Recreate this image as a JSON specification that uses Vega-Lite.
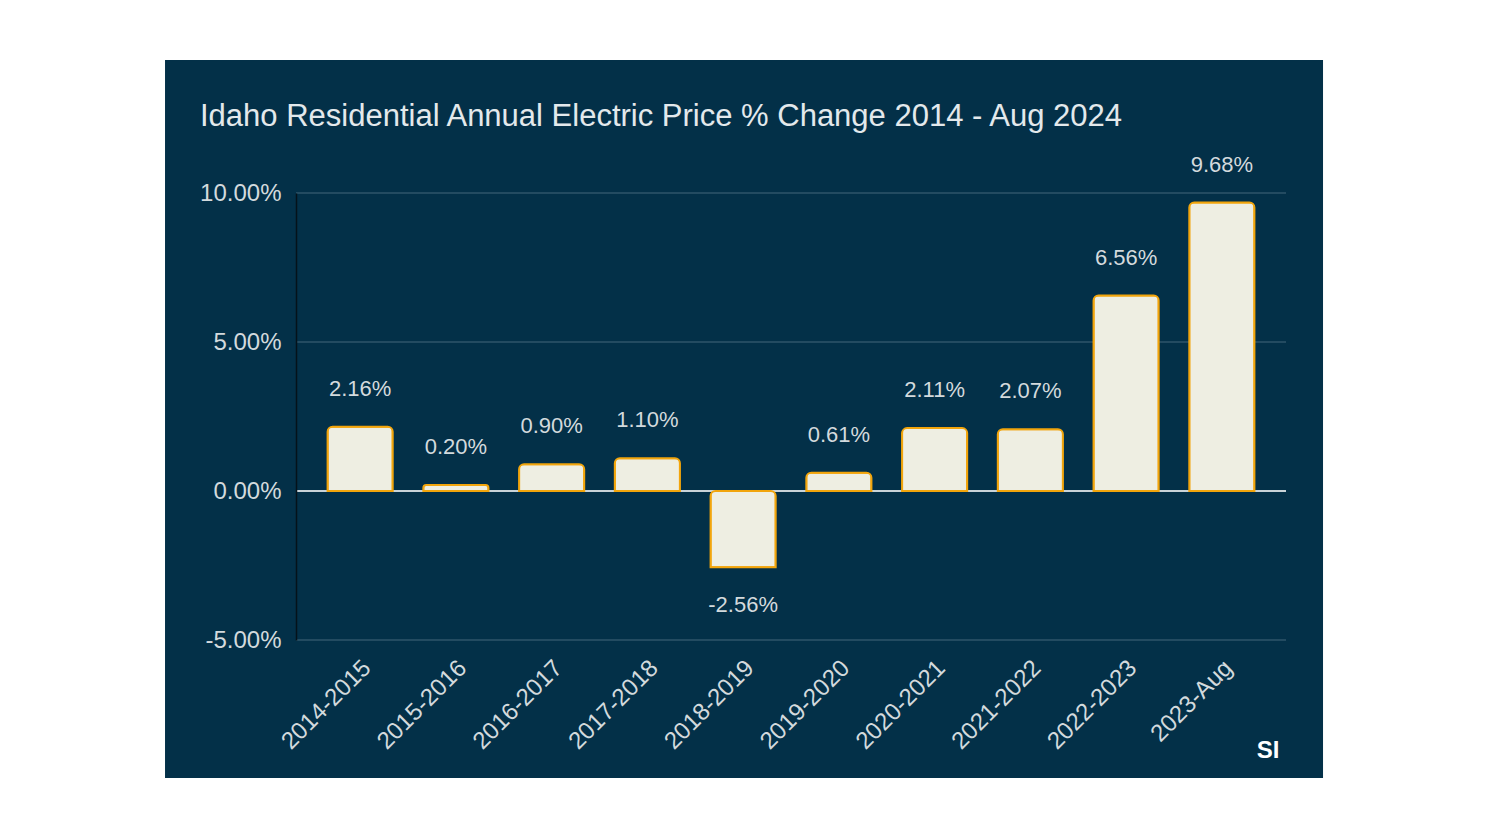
{
  "$schema": "https://vega.github.io/schema/vega-lite/v6.json",
  "width": 990,
  "height": 447,
  "autosize": {"type": "pad"},
  "padding": {"left": 165, "top": 60, "right": 165, "bottom": 59},
  "background": "white",
  "config": {
    "view": {"stroke": null},
    "font": "Liberation Sans"
  },
  "title": {
    "text": "Idaho Residential Annual Electric Price % Change 2014 - Aug 2024",
    "anchor": "start",
    "frame": "group",
    "baseline": "alphabetic",
    "offset": -97,
    "dx": -96,
    "fontSize": 31,
    "fontWeight": "normal",
    "font": "Liberation Sans",
    "color": "#e3e9ec"
  },
  "datasets": {
    "bars": [
      {"period": "2014-2015", "change": 2.16},
      {"period": "2015-2016", "change": 0.20},
      {"period": "2016-2017", "change": 0.90},
      {"period": "2017-2018", "change": 1.10},
      {"period": "2018-2019", "change": -2.56},
      {"period": "2019-2020", "change": 0.61},
      {"period": "2020-2021", "change": 2.11},
      {"period": "2021-2022", "change": 2.07},
      {"period": "2022-2023", "change": 6.56},
      {"period": "2023-Aug", "change": 9.68}
    ],
    "gridlines": [
      {"tick": -5, "zero": false},
      {"tick": 5, "zero": false},
      {"tick": 10, "zero": false},
      {"tick": 0, "zero": true}
    ]
  },
  "layer": [
    {
      "data": {"values": [{"item": "panel"}]},
      "encoding": {},
      "layer": [
        {
          "mark": {"type": "rect", "color": "#033048"},
          "encoding": {
            "x": {"datum": -0.1323, "type": "quantitative", "scale": {"domain": [0, 1], "nice": false, "zero": false}, "axis": null},
            "x2": {"datum": 1.0374},
            "y": {"datum": 14.463, "type": "quantitative"},
            "y2": {"datum": -9.631}
          }
        },
        {
          "mark": {"type": "text", "text": "SI", "color": "white", "fontSize": 24, "fontWeight": "bold", "font": "Liberation Sans", "align": "center", "baseline": "middle"},
          "encoding": {
            "x": {"datum": 0.982, "type": "quantitative"},
            "y": {"datum": -8.72, "type": "quantitative"}
          }
        }
      ]
    },
    {
      "encoding": {
        "x": {
          "field": "period",
          "type": "nominal",
          "sort": null,
          "scale": {"paddingInner": 0.32, "paddingOuter": 0.33},
          "axis": {
            "orient": "bottom",
            "title": null,
            "domain": false,
            "ticks": false,
            "zindex": 1,
            "labelAngle": -45,
            "labelAlign": "right",
            "labelBaseline": "middle",
            "labelPadding": 24,
            "labelOffset": 7,
            "labelFontSize": 24,
            "labelColor": "#d3dadd",
            "labelFont": "Liberation Sans"
          }
        },
        "y": {
          "field": "change",
          "type": "quantitative",
          "scale": {"domain": [-5, 10], "nice": false},
          "axis": {
            "title": null,
            "values": [-5, 0, 5, 10],
            "labelExpr": "replace(format(datum.value, '.2f'), '\u2212', '-') + '%'",
            "ticks": false,
            "domain": true,
            "zindex": 1,
            "domainColor": "#05121a",
            "domainWidth": 1.5,
            "grid": false,
            "labelPadding": 15,
            "labelFontSize": 24,
            "labelColor": "#d3dadd",
            "labelFont": "Liberation Sans"
          }
        }
      },
      "layer": [
        {
          "data": {"name": "gridlines"},
          "mark": {"type": "rule"},
          "encoding": {
            "x": null,
            "y": {"field": "tick", "type": "quantitative"},
            "color": {"condition": {"test": "datum.zero", "value": "#c9d3d8"}, "value": "#45677a"},
            "strokeWidth": {"condition": {"test": "datum.zero", "value": 2}, "value": 1.2}
          }
        },
        {
          "data": {"name": "bars"},
          "mark": {"type": "bar", "fill": "#eeeee2", "stroke": "#f2a50c", "strokeWidth": 2, "cornerRadiusEnd": 5}
        },
        {
          "data": {"name": "bars"},
          "transform": [
            {"filter": "datum.change >= 0"},
            {"calculate": "format(datum.change, '.2f') + '%'", "as": "label"}
          ],
          "mark": {"type": "text", "baseline": "middle", "align": "center", "dy": -38, "fontSize": 22, "color": "#d3dadd", "font": "Liberation Sans"},
          "encoding": {"text": {"field": "label", "type": "nominal"}}
        },
        {
          "data": {"name": "bars"},
          "transform": [
            {"filter": "datum.change < 0"},
            {"calculate": "replace(format(datum.change, '.2f'), '\u2212', '-') + '%'", "as": "label"}
          ],
          "mark": {"type": "text", "baseline": "middle", "align": "center", "dy": 38, "fontSize": 22, "color": "#d3dadd", "font": "Liberation Sans"},
          "encoding": {"text": {"field": "label", "type": "nominal"}}
        }
      ]
    }
  ],
  "resolve": {"scale": {"x": "independent"}}
}
